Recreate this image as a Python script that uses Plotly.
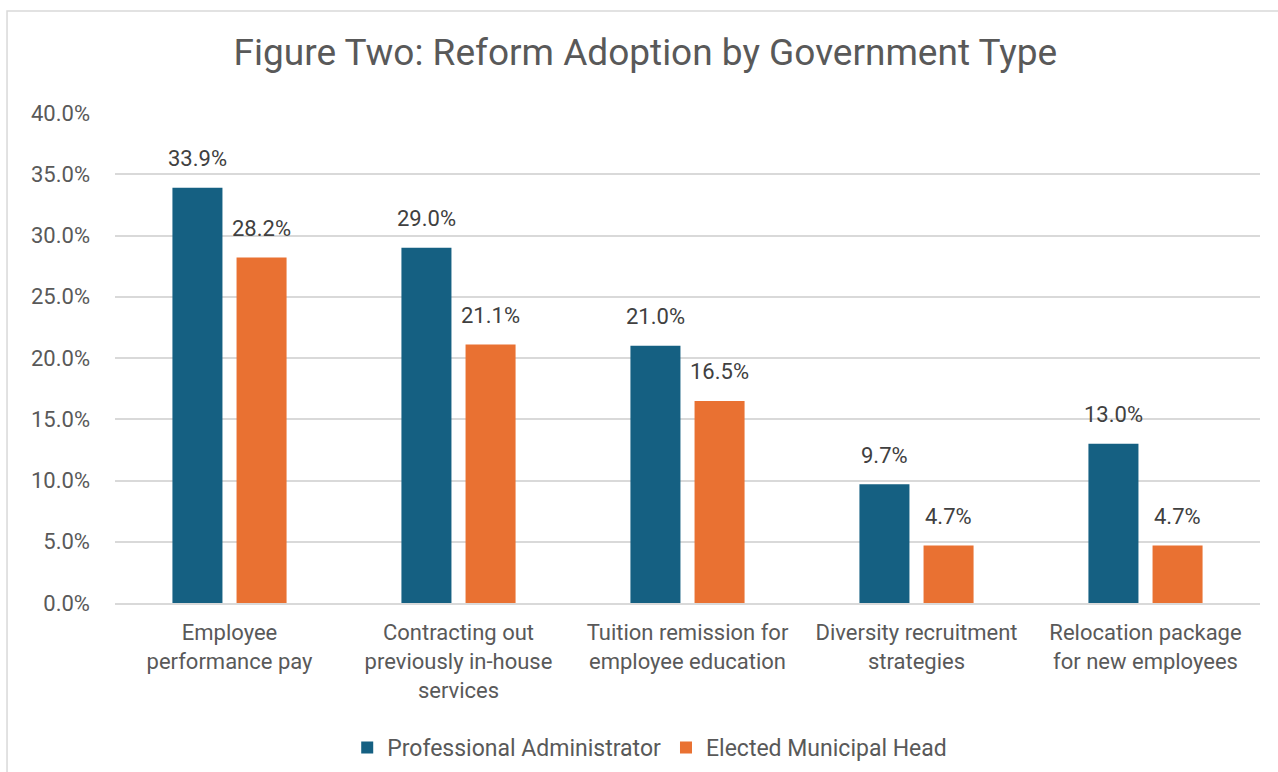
import plotly.graph_objects as go

categories = [
    "Employee<br>performance pay",
    "Contracting out<br>previously in-house<br>services",
    "Tuition remission for<br>employee education",
    "Diversity recruitment<br>strategies",
    "Relocation package<br>for new employees",
]
professional = [0.339, 0.290, 0.210, 0.097, 0.130]
elected = [0.282, 0.211, 0.165, 0.047, 0.047]
series_names = ["Professional Administrator", "Elected Municipal Head"]
colors = ["#156082", "#E97132"]

FONT = "Roboto, Arial, sans-serif"

fig = go.Figure()
for name, vals, col in zip(series_names, [professional, elected], colors):
    fig.add_trace(go.Bar(
        x=categories, y=vals, name=name, marker_color=col,
        marker_line_width=0, cliponaxis=False,
    ))

annotations = []
for vals, shift in zip([professional, elected], [-32, 32]):
    for c, v in zip(categories, vals):
        annotations.append(dict(
            x=c, y=v, xref="x", yref="y", text=f"{v*100:.1f}%",
            showarrow=False, xshift=shift, yshift=29, yanchor="middle",
            font=dict(size=22, color="#404040", family=FONT),
        ))

fig.update_layout(
    width=1278, height=772,
    margin=dict(l=115, r=18, t=113, b=169, autoexpand=False),
    paper_bgcolor="white", plot_bgcolor="white",
    barmode="group", bargap=0.44, bargroupgap=0.22,
    font=dict(family=FONT, color="#595959", size=22),
    title=dict(text="Figure Two: Reform Adoption by Government Type",
               x=0.505, xanchor="center", y=0.932, yanchor="middle",
               font=dict(size=37, color="#595959", family=FONT)),
    yaxis=dict(range=[0, 0.4], dtick=0.05, tickformat=".1%",
               gridcolor="#D9D9D9", gridwidth=1.5, zeroline=False,
               showline=False, ticks="", ticklabelstandoff=24,
               automargin=False,
               tickfont=dict(size=22, color="#595959")),
    xaxis=dict(showline=True, linecolor="#D9D9D9", linewidth=2,
               ticks="", ticklabelstandoff=9, automargin=False,
               tickfont=dict(size=22, color="#595959")),
    legend=dict(orientation="h", x=0.467, xanchor="center", y=-0.295,
                yanchor="middle", font=dict(size=23, color="#595959"),
                itemwidth=30, traceorder="normal"),
    annotations=annotations,
    shapes=[dict(type="rect", xref="paper", yref="paper",
                 x0=-0.0943, x1=1.03, y0=-0.4, y1=1.208,
                 line=dict(color="#D9D9D9", width=1.5), layer="below")],
)

fig.write_html("out.html")
